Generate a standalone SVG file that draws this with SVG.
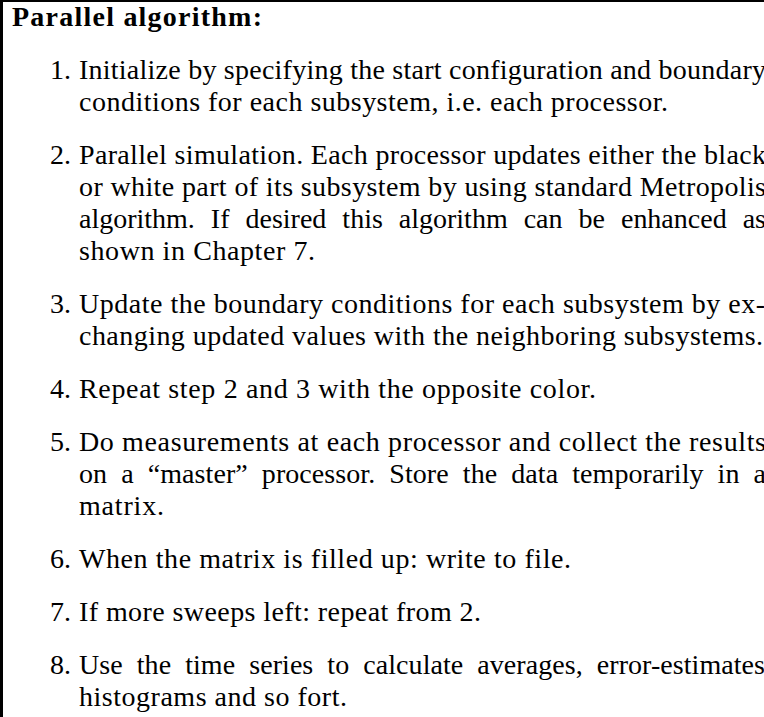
<svg xmlns="http://www.w3.org/2000/svg" width="764" height="717" viewBox="0 0 764 717">
<style>
text { font-family: "Liberation Serif", "Times New Roman", serif; font-size: 28px; fill: #000; }
.title { font-weight: bold; }
</style>
<rect x="0" y="0" width="764" height="717" fill="#fff"/>
<g id="frame">
<rect x="0" y="0" width="764" height="2" fill="#000"/>
<rect x="0" y="0" width="3" height="717" fill="#000"/>
</g>
<g id="title"><text class="title" x="12" y="26" textLength="250" lengthAdjust="spacing">Parallel algorithm:</text></g>
<g id="item1">
<text x="50" y="79">1.</text>
<text x="79" y="79" textLength="687" lengthAdjust="spacing">Initialize by specifying the start configuration and boundary</text>
<text x="79" y="111" textLength="589" lengthAdjust="spacing">conditions for each subsystem, i.e. each processor.</text>
</g>
<g id="item2">
<text x="50" y="164">2.</text>
<text x="79" y="164" textLength="687" lengthAdjust="spacing">Parallel simulation. Each processor updates either the black</text>
<text x="79" y="196" textLength="687" lengthAdjust="spacing">or white part of its subsystem by using standard Metropolis</text>
<text x="79" y="228" word-spacing="9" textLength="687" lengthAdjust="spacing">algorithm. If desired this algorithm can be enhanced as</text>
<text x="79" y="260" textLength="236" lengthAdjust="spacing">shown in Chapter 7.</text>
</g>
<g id="item3">
<text x="50" y="313">3.</text>
<text x="79" y="313" textLength="686" lengthAdjust="spacing">Update the boundary conditions for each subsystem by ex-</text>
<text x="79" y="345" textLength="684" lengthAdjust="spacing">changing updated values with the neighboring subsystems.</text>
</g>
<g id="item4">
<text x="50" y="398">4.</text>
<text x="79" y="398" textLength="517" lengthAdjust="spacing">Repeat step 2 and 3 with the opposite color.</text>
</g>
<g id="item5">
<text x="50" y="451">5.</text>
<text x="79" y="451" textLength="687" lengthAdjust="spacing">Do measurements at each processor and collect the results</text>
<text x="79" y="483" word-spacing="7" textLength="687" lengthAdjust="spacing">on a “master” processor. Store the data temporarily in a</text>
<text x="79" y="515" textLength="85" lengthAdjust="spacing">matrix.</text>
</g>
<g id="item6">
<text x="50" y="568">6.</text>
<text x="79" y="568" textLength="492" lengthAdjust="spacing">When the matrix is filled up: write to file.</text>
</g>
<g id="item7">
<text x="50" y="621">7.</text>
<text x="79" y="621" textLength="402" lengthAdjust="spacing">If more sweeps left: repeat from 2.</text>
</g>
<g id="item8">
<text x="50" y="674">8.</text>
<text x="79" y="674" word-spacing="7" textLength="693" lengthAdjust="spacing">Use the time series to calculate averages, error-estimates,</text>
<text x="79" y="706" textLength="268" lengthAdjust="spacing">histograms and so fort.</text>
</g>
<g id="connectors"></g>
</svg>
